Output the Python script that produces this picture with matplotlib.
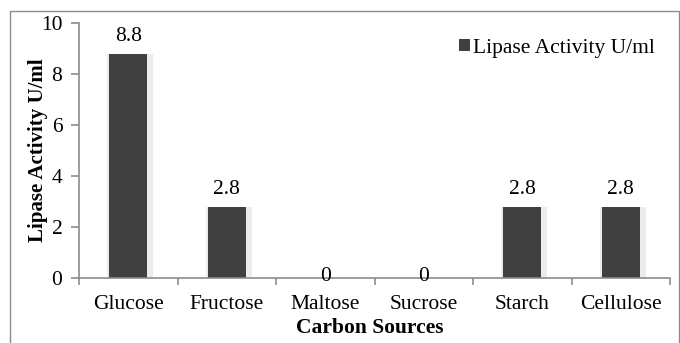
import matplotlib.pyplot as plt
import numpy as np
from matplotlib.patches import Rectangle

categories = ['Glucose', 'Fructose', 'Maltose', 'Sucrose', 'Starch', 'Cellulose']
activity = [8.8, 2.8, 0, 0, 2.8, 2.8]
y_ticks = [0, 2, 4, 6, 8, 10]

plt.rcParams['font.family'] = ['Liberation Serif', 'DejaVu Serif']
FS = 15.5

fig = plt.figure(figsize=(6.8, 3.43), dpi=100)
ax = fig.add_axes([79 / 680, 1 - 278 / 343, (670 - 79) / 680, (278 - 23) / 343])

# frame round the whole chart area
fig.patches.append(Rectangle((10 / 680, -0.1), 0.999 - 10 / 680, 1.1 - 11 / 343,
                             transform=fig.transFigure, fill=False,
                             edgecolor='#8c8c8c', linewidth=1.0))

x = np.arange(len(categories))

# soft shadow behind each bar
ax.bar(x + 0.02, activity, width=0.47, color='#ececec', zorder=1)
bars = ax.bar(x, activity, width=0.39, color='#404040', zorder=2,
              label='Lipase Activity U/ml')

for xi, v in zip(x, activity):
    if v > 0:
        ax.text(xi, v + 0.3, f'{v:g}', ha='center', va='bottom', fontsize=FS)
    else:
        ax.text(xi, v + 0.05, f'{v:g}', ha='center', va='center', fontsize=FS)

ax.set_xlim(-0.5, len(categories) - 0.5)
ax.set_ylim(0, 10)
ax.set_yticks(y_ticks)
ax.set_yticklabels([str(t) for t in y_ticks], fontsize=FS)
ax.set_xticks(x)
ax.set_xticklabels(categories, fontsize=FS)
ax.tick_params(axis='x', length=0, pad=12)
ax.tick_params(axis='y', length=6, color='#8c8c8c', width=1.2, pad=6)

# category boundary ticks on the x axis
ax.set_xticks(np.arange(-0.5, len(categories), 1), minor=True)
ax.tick_params(axis='x', which='minor', length=5, color='#8c8c8c', width=1.2)

for s in ['top', 'right']:
    ax.spines[s].set_visible(False)
for s in ['left', 'bottom']:
    ax.spines[s].set_color('#8c8c8c')
    ax.spines[s].set_linewidth(1.2)

ax.set_ylabel('Lipase Activity U/ml', fontsize=15, fontweight='bold', va='center')
ax.yaxis.set_label_coords(-0.069, 0.5)
ax.set_xlabel('Carbon Sources', fontsize=FS, fontweight='bold', va='center')
ax.xaxis.set_label_coords(0.492, -0.196)

ax.legend(handles=[bars], loc='center left', bbox_to_anchor=(380 / 591, 0.9),
          frameon=False, fontsize=FS, handlelength=0.5, handleheight=0.5,
          handletextpad=0.15, borderpad=0, borderaxespad=0)

fig.savefig('out.png', dpi=100)
